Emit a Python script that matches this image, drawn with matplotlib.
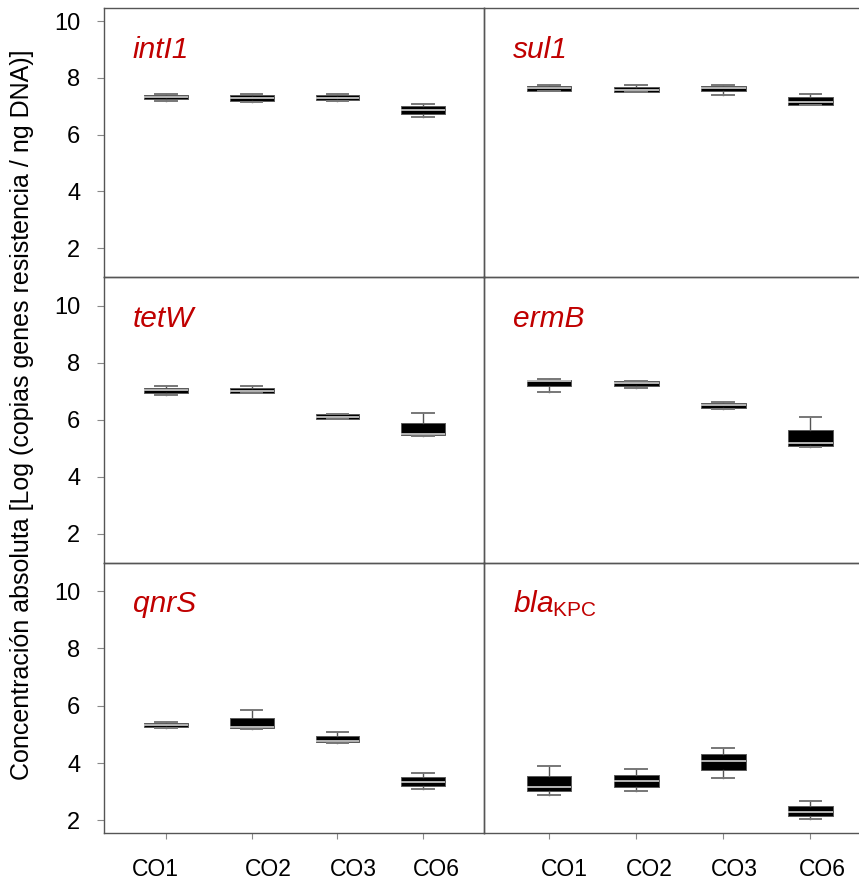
import matplotlib
matplotlib.use("Agg")
import matplotlib.pyplot as plt
from matplotlib.transforms import ScaledTranslation, blended_transform_factory

plt.rcParams['font.family'] = ['Liberation Sans', 'DejaVu Sans']
plt.rcParams['mathtext.fontset'] = 'custom'
plt.rcParams['mathtext.it'] = 'Liberation Sans:italic'
plt.rcParams['mathtext.rm'] = 'Liberation Sans'

# ---------------- data ----------------
groups = ["CO1", "CO2", "CO3", "CO6"]
genes = ["intI1", "sul1", "tetW", "ermB", "qnrS", "blaKPC"]
gene_titles = ["intI1", "sul1", "tetW", "ermB", "qnrS", r"$\mathit{bla}_{\mathrm{KPC}}$"]

# per gene: values for CO1, CO2, CO3, CO6
whislo = {
    "intI1": [7.18, 7.16, 7.18, 6.63],
    "sul1": [7.52, 7.49, 7.38, 7.03],
    "tetW": [6.86, 6.95, 6.04, 5.44],
    "ermB": [6.98, 7.12, 6.39, 5.03],
    "qnrS": [5.22, 5.19, 4.69, 3.10],
    "blaKPC": [2.88, 3.02, 3.49, 2.05],
}
q1 = {
    "intI1": [7.24, 7.19, 7.23, 6.74],
    "sul1": [7.55, 7.49, 7.52, 7.05],
    "tetW": [6.93, 6.92, 6.04, 5.45],
    "ermB": [7.17, 7.18, 6.41, 5.08],
    "qnrS": [5.27, 5.22, 4.75, 3.21],
    "blaKPC": [3.02, 3.16, 3.77, 2.14],
}
med = {
    "intI1": [7.32, 7.28, 7.30, 6.86],
    "sul1": [7.63, 7.56, 7.65, 7.15],
    "tetW": [7.04, 6.99, 6.09, 5.51],
    "ermB": [7.37, 7.30, 6.50, 5.19],
    "qnrS": [5.34, 5.26, 4.78, 3.35],
    "blaKPC": [3.16, 3.36, 4.09, 2.29],
}
q3 = {
    "intI1": [7.38, 7.38, 7.39, 7.00],
    "sul1": [7.71, 7.69, 7.72, 7.31],
    "tetW": [7.10, 7.10, 6.19, 5.90],
    "ermB": [7.40, 7.34, 6.58, 5.63],
    "qnrS": [5.39, 5.56, 4.96, 3.52],
    "blaKPC": [3.54, 3.59, 4.32, 2.50],
}
whishi = {
    "intI1": [7.42, 7.42, 7.43, 7.07],
    "sul1": [7.75, 7.74, 7.75, 7.42],
    "tetW": [7.17, 7.19, 6.19, 6.25],
    "ermB": [7.42, 7.37, 6.62, 6.08],
    "qnrS": [5.43, 5.84, 5.08, 3.66],
    "blaKPC": [3.90, 3.79, 4.52, 2.67],
}
yticks = [2, 4, 6, 8, 10]
ylabel = "Concentración absoluta [Log (copias genes resistencia / ng DNA)]"

# ---------------- layout ----------------
W, H = 859, 889
fig = plt.figure(figsize=(W / 100, H / 100), dpi=100)

col_x = [(104, 484), (484, 860)]
row_y = [(8, 277), (277, 562.5), (562.5, 832.5)]
row_ylim = [(0.98, 10.46), (1.0, 11.0), (1.58, 11.0)]
col_xlim = [(0.277, 4.71), (0.25, 4.57)]
label_dx_px = [[-11, 17, 16, 13], [15, 13, 11, 12]]

spine_c = "#555555"
red = "#c00000"
positions = [1, 2, 3, 4]

for idx, gene in enumerate(genes):
    r, c = divmod(idx, 2)
    x0, x1 = col_x[c]
    yt, yb = row_y[r]
    ax = fig.add_axes([x0 / W, 1 - yb / H, (x1 - x0) / W, (yb - yt) / H])
    ax.patch.set_alpha(0)
    stats = []
    for i, g in enumerate(groups):
        stats.append(dict(whislo=whislo[gene][i], q1=q1[gene][i], med=med[gene][i],
                          q3=q3[gene][i], whishi=whishi[gene][i], fliers=[], label=g))
    ax.bxp(stats, positions=positions, widths=0.51, patch_artist=True,
           showfliers=False, capwidths=0.25,
           boxprops=dict(facecolor="black", edgecolor="#5a5a5a", linewidth=0.7),
           medianprops=dict(color="#c4c4c4", linewidth=1.3),
           whiskerprops=dict(color="#555555", linewidth=1.0),
           capprops=dict(color="#777777", linewidth=1.4))
    ax.set_xlim(*col_xlim[c])
    ax.set_ylim(*row_ylim[r])
    for s in ax.spines.values():
        s.set_color(spine_c)
        s.set_linewidth(1.0)
    ax.spines["right"].set_visible(c == 0)

    if c == 0:
        ax.set_yticks(yticks)
        ax.tick_params(axis="y", direction="out", length=5, width=0.8,
                       color="#888888", labelsize=17, pad=12)
    else:
        ax.set_yticks([])

    ax.set_xticks(positions)
    ax.set_xticklabels([])
    if r == 2:
        ax.tick_params(axis="x", direction="out", length=4, width=0.8, color="#888888")
        trans = blended_transform_factory(ax.transData, ax.transAxes)
        for i, g in enumerate(groups):
            off = ScaledTranslation(label_dx_px[c][i] / 100, -37 / 100, fig.dpi_scale_trans)
            ax.text(positions[i], 0, g, transform=trans + off, ha="center", va="center",
                    fontsize=16.5, color="black")
    else:
        ax.tick_params(axis="x", length=0)

    toff = ScaledTranslation(29 / 100, -50 / 100, fig.dpi_scale_trans)
    ax.text(0, 1, gene_titles[idx], transform=ax.transAxes + toff, ha="left",
            va="baseline", fontsize=21.5, color=red, fontstyle="italic")

fig.text(22 / W, 1 - 415 / H, ylabel, rotation=90, ha="center", va="center",
         fontsize=18, color="black")

fig.savefig("out.png", dpi=100)
